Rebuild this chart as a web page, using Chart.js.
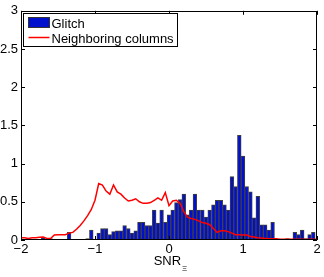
<!DOCTYPE html>
<html><head><meta charset="utf-8">
<script src="https://cdn.jsdelivr.net/npm/chart.js@4/dist/chart.umd.min.js"></script>
<style>html,body{margin:0;padding:0;background:#fff;overflow:hidden}#wrap{width:324px;height:277px}</style>
</head><body><div id="wrap"><canvas id="c" width="324" height="277"></canvas></div>
<script>
// Bin centres (SNR_Ξ)
const binCenters = [-2.00,-1.95,-1.90,-1.85,-1.80,-1.75,-1.70,-1.65,-1.60,-1.55,-1.50,-1.45,-1.40,-1.35,-1.30,-1.25,-1.20,-1.15,-1.10,-1.05,
 -1.00,-0.95,-0.90,-0.85,-0.80,-0.75,-0.70,-0.65,-0.60,-0.55,-0.50,-0.45,-0.40,-0.35,-0.30,-0.25,-0.20,-0.15,-0.10,-0.05,
 0.00,0.05,0.10,0.15,0.20,0.25,0.30,0.35,0.40,0.45,0.50,0.55,0.60,0.65,0.70,0.75,0.80,0.85,0.90,0.95,
 1.00,1.05,1.10,1.15,1.20,1.25,1.30,1.35,1.40,1.45,1.50,1.55,1.60,1.65,1.70,1.75,1.80,1.85,1.90,1.95,2.00];
// Glitch histogram (normalised)
const glitch = [0,0,0.02,0,0,0,0.03,0,0.02,0,0,0,0,0.10,0,0,0,0,0.02,0.13,
 0,0.09,0.15,0.15,0.07,0.11,0.12,0.12,0.19,0.15,0.09,0.12,0.23,0.23,0.19,0.19,0.39,0.22,0.39,0.23,
 0.33,0.39,0.49,0.53,0.60,0.33,0.39,0.60,0.39,0.39,0.30,0.39,0.46,0.52,0.52,0.46,0.39,0.83,0.70,1.37,
 1.10,0.70,0.63,0.29,0.57,0.20,0.20,0.13,0.23,0,0,0,0.02,0,0.10,0.07,0.13,0.02,0.07,0.10,0];
// Neighboring columns distribution
const neighbor = [0.03,0.03,0.02,0.03,0.03,0.035,0.04,0.02,0.02,0.065,0.07,0.07,0.07,0.09,0.10,0.14,0.19,0.25,0.32,0.40,
 0.52,0.74,0.72,0.64,0.60,0.72,0.63,0.60,0.55,0.51,0.52,0.54,0.50,0.48,0.48,0.49,0.52,0.55,0.52,0.62,
 0.45,0.51,0.52,0.48,0.37,0.30,0.28,0.27,0.25,0.23,0.22,0.20,0.15,0.10,0.12,0.12,0.11,0.09,0.07,0.07,
 0.065,0.065,0.045,0.04,0.03,0.025,0.02,0.015,0.015,0.015,0.01,0.01,0.01,0.01,0.01,0.01,0.01,0.005,0.01,0.01,0.005];
const xTicks = [-2,-1,0,1,2];
const yTicks = [0,0.5,1,1.5,2,2.5,3];
const labels = ['Glitch','Neighboring columns'];

const FONT = 'Liberation Sans, Arial, Helvetica, sans-serif';

const boxPlugin = {
  id: 'box',
  afterDraw(chart) {
    const {ctx, chartArea: a, scales} = chart;
    ctx.save();
    ctx.strokeStyle = '#000';
    ctx.lineWidth = 1;
    ctx.beginPath();
    ctx.rect(Math.round(a.left)+0.5, Math.round(a.top)+0.5, Math.round(a.right-a.left)-1, Math.round(a.bottom-a.top)-1);
    ctx.stroke();
    const tl = 4;
    ctx.beginPath();
    xTicks.forEach(v => {
      const x = Math.round(scales.x.getPixelForValue(v)) + 0.5;
      ctx.moveTo(x, a.bottom); ctx.lineTo(x, a.bottom - tl);
      ctx.moveTo(x, a.top); ctx.lineTo(x, a.top + tl);
    });
    yTicks.forEach(v => {
      const y = Math.round(scales.y.getPixelForValue(v)) + 0.5;
      ctx.moveTo(a.left, y); ctx.lineTo(a.left + tl, y);
      ctx.moveTo(a.right, y); ctx.lineTo(a.right - tl, y);
    });
    ctx.stroke();
    // legend
    const lx = Math.round(a.left) + 2.5, ly = Math.round(a.top) + 2.5;
    const lw = 154, lh = 33;
    ctx.fillStyle = '#fff';
    ctx.fillRect(lx, ly, lw, lh);
    ctx.strokeStyle = '#000';
    ctx.strokeRect(lx, ly, lw, lh);
    ctx.fillStyle = '#0010cc';
    ctx.fillRect(lx + 5, ly + 4, 21, 10);
    ctx.strokeStyle = '#333';
    ctx.strokeRect(lx + 5, ly + 4, 21, 10);
    ctx.strokeStyle = '#ff0000';
    ctx.lineWidth = 1.5;
    ctx.beginPath();
    ctx.moveTo(lx + 5, ly + 24); ctx.lineTo(lx + 26, ly + 24);
    ctx.stroke();
    ctx.fillStyle = '#000';
    ctx.font = '13px ' + FONT;
    ctx.textBaseline = 'alphabetic';
    ctx.textAlign = 'left';
    ctx.fillText(chart.data.datasets[1].label, lx + 28, ly + 14);
    ctx.fillText(chart.data.datasets[0].label, lx + 28, ly + 29);
    // x-axis title SNR with subscript Xi
    ctx.font = '13px ' + FONT;
    const main = 'SNR', sub = '\u039E';
    const w1 = ctx.measureText(main).width;
    ctx.font = '8px ' + FONT;
    const w2 = ctx.measureText(sub).width;
    const cx = (a.left + a.right) / 2;
    const sx = cx - (w1 + w2) / 2 + 1;
    ctx.font = '13px ' + FONT;
    ctx.fillText(main, sx, 265);
    ctx.font = '8px ' + FONT;
    ctx.fillText(sub, sx + w1 + 1, 271);
    ctx.restore();
  }
};

new Chart(document.getElementById('c'), {
  type: 'bar',
  data: {
    datasets: [
      {
        type: 'line',
        label: labels[1],
        data: binCenters.map((x, i) => ({x, y: neighbor[i]})),
        borderColor: '#ff0000',
        borderWidth: 1.5,
        pointRadius: 0,
        tension: 0,
        fill: false,
        order: 1
      },
      {
        type: 'bar',
        label: labels[0],
        data: binCenters.map((x, i) => ({x, y: glitch[i]})),
        backgroundColor: '#0010cc',
        borderColor: '#404040',
        borderWidth: 1,
        barPercentage: 1,
        categoryPercentage: 1,
        order: 2
      }
    ]
  },
  options: {
    responsive: false,
    animation: false,
    layout: {padding: {top: 10, right: 7, left: 0, bottom: 0}},
    plugins: {legend: {display: false}, tooltip: {enabled: false}},
    scales: {
      x: {
        type: 'linear', min: -2, max: 2, offset: false,
        afterBuildTicks: s => { s.ticks = xTicks.map(v => ({value: v})); },
        afterFit: s => { s.height = 37; },
        grid: {display: false, drawTicks: false},
        border: {display: false},
        ticks: {
          padding: 2, color: '#000', font: {family: FONT, size: 13},
          maxRotation: 0, autoSkip: false,
          callback: v => String(v).replace('-', '\u2212')
        }
      },
      y: {
        type: 'linear', min: 0, max: 3,
        afterBuildTicks: s => { s.ticks = yTicks.map(v => ({value: v})); },
        afterFit: s => { s.width = 21; },
        grid: {display: false, drawTicks: false},
        border: {display: false},
        ticks: {padding: 3, color: '#000', font: {family: FONT, size: 13}, autoSkip: false,
          callback: v => String(v)}
      }
    }
  },
  plugins: [boxPlugin]
});
</script>
</body></html>
